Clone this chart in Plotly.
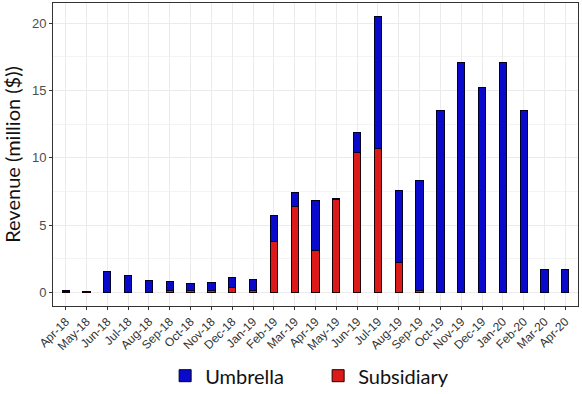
import plotly.graph_objects as go

months = ["Apr-18","May-18","Jun-18","Jul-18","Aug-18","Sep-18","Oct-18","Nov-18","Dec-18",
          "Jan-19","Feb-19","Mar-19","Apr-19","May-19","Jun-19","Jul-19","Aug-19","Sep-19",
          "Oct-19","Nov-19","Dec-19","Jan-20","Feb-20","Mar-20","Apr-20"]
total = [0.1, 0.05, 1.53, 1.26, 0.89, 0.79, 0.62, 0.71, 1.08,
         0.97, 5.74, 7.43, 6.83, 6.96, 11.86, 20.53, 7.55, 8.32,
         13.52, 17.11, 15.23, 17.11, 13.49, 1.68, 1.68]
subsidiary = [0.08, 0.04, 0.0, 0.0, 0.0, 0.15, 0.15, 0.1, 0.34,
              0.15, 3.81, 6.36, 3.14, 6.93, 10.4, 10.65, 2.23, 0.12,
              0.0, 0.0, 0.0, 0.0, 0.0, 0.0, 0.0]
umbrella = [round(t - s, 3) for t, s in zip(total, subsidiary)]

fig = go.Figure()
fig.add_trace(go.Bar(x=months, y=subsidiary, name="Subsidiary", legendrank=2,
                     marker=dict(color="#DC1A1A", line=dict(color="#1a0000", width=1)), width=0.35))
fig.add_trace(go.Bar(x=months, y=umbrella, name="Umbrella", legendrank=1,
                     marker=dict(color="#0A0ACC", line=dict(color="#000022", width=1)), width=0.35))

fig.update_layout(
    barmode="stack",
    width=582, height=394,
    margin=dict(l=53, r=4, t=3, b=88, autoexpand=False),
    plot_bgcolor="white", paper_bgcolor="white",
    showlegend=True,
    legend=dict(orientation="h", x=0.505, xanchor="center", y=-0.23, yanchor="middle",
                font=dict(family="Lato", size=20, color="#111"), itemwidth=30,
                tracegroupgap=0, entrywidth=108, traceorder="normal"),
    xaxis=dict(range=[-0.61, 24.61], tickangle=-45, showgrid=True, gridcolor="#EBEBEB", gridwidth=1,
               automargin=False,
               ticks="outside", ticklen=3, tickcolor="#333", tickfont=dict(family="Liberation Sans", size=12, color="#333"),
               showline=True, linecolor="#333", linewidth=1, mirror=True, zeroline=False),
    yaxis=dict(range=[-1.02, 21.5], tickvals=[0, 5, 10, 15, 20], showgrid=True, gridcolor="#EBEBEB", gridwidth=1.2,
               automargin=False,
               minor=dict(tickvals=[2.5, 7.5, 12.5, 17.5], showgrid=True, gridcolor="#F4F4F4", gridwidth=0.8),
               ticks="outside", ticklen=3, tickcolor="#333", tickfont=dict(family="Liberation Sans", size=13, color="#4D4D4D"),
               showline=True, linecolor="#333", linewidth=1, mirror=True, zeroline=False,
               title=dict(text="Revenue (million ($))", font=dict(family="Lato", size=20, color="#111"), standoff=8)),
)

fig.write_html("out.html", config={"displayModeBar": False},
               post_script="document.body.style.margin='0';document.body.style.overflow='hidden';")
